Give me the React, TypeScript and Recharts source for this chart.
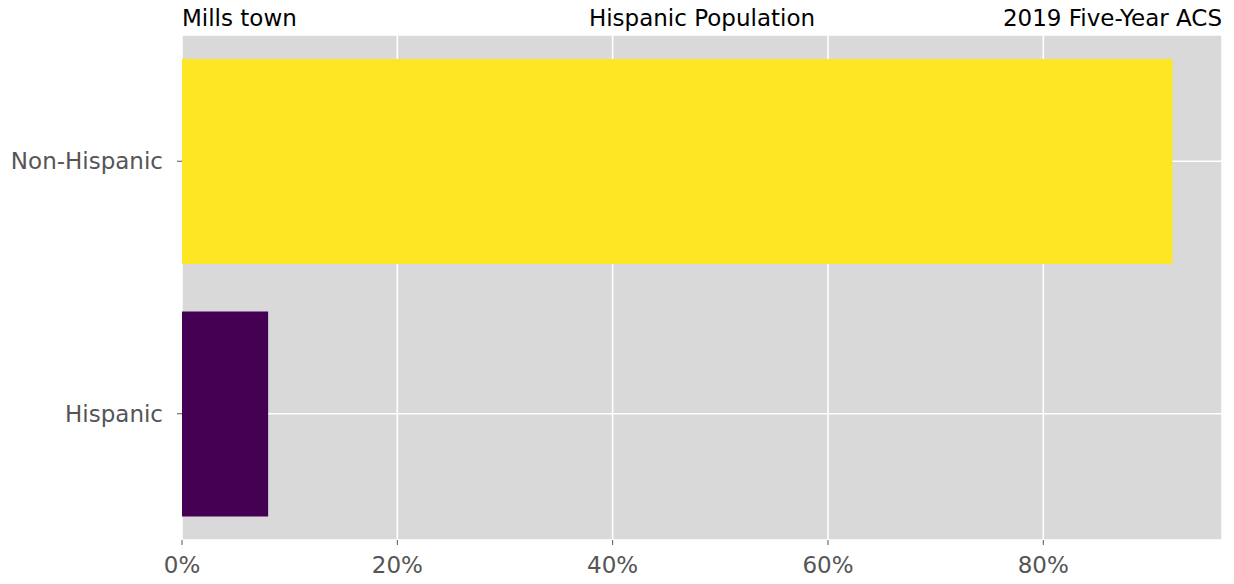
import { BarChart, Bar, XAxis, YAxis, CartesianGrid, Cell } from "recharts";

const categories = ["Non-Hispanic", "Hispanic"];
const shares = [92, 8];
const colors = ["#fde725", "#440154"];
const xTicks = [0, 20, 40, 60, 80];

const data = categories.map((name, i) => ({ name, value: shares[i] }));

const font = "'DejaVu Sans', sans-serif";

export default function App() {
  return (
    <div style={{ position: "relative", width: 1234, height: 584, margin: -8, fontFamily: font }}>
      <BarChart
        width={1234}
        height={584}
        data={data}
        layout="vertical"
        margin={{ top: 35, right: 12, bottom: 0, left: 0 }}
        barCategoryGap={0}
      >
        <CartesianGrid fill="#d9d9d9" stroke="#ffffff" strokeWidth={1.6} />
        <XAxis
          type="number"
          height={44}
          domain={[0, 96.6]}
          ticks={xTicks}
          tickFormatter={(v) => `${v}%`}
          axisLine={false}
          tickSize={5}
          tickMargin={12}
          tickLine={{ stroke: "#555555" }}
          tick={{ fontSize: 23, fill: "#555555", fontFamily: font }}
        />
        <YAxis
          type="category"
          dataKey="name"
          width={182}
          axisLine={false}
          tickSize={5}
          tickMargin={14}
          tickLine={{ stroke: "#555555" }}
          tick={{ fontSize: 23, fill: "#555555", fontFamily: font }}
        />
        <Bar dataKey="value" barSize={205} isAnimationActive={false}>
          {data.map((d, i) => (
            <Cell key={d.name} fill={colors[i]} />
          ))}
        </Bar>
      </BarChart>
      <div style={{ position: "absolute", left: 182, top: 5, fontSize: 23, color: "#000" }}>Mills town</div>
      <div style={{ position: "absolute", left: 182, width: 1040, top: 5, fontSize: 23, textAlign: "center", color: "#000" }}>
        Hispanic Population
      </div>
      <div style={{ position: "absolute", right: 12, top: 5, fontSize: 23, color: "#000" }}>2019 Five-Year ACS</div>
    </div>
  );
}
